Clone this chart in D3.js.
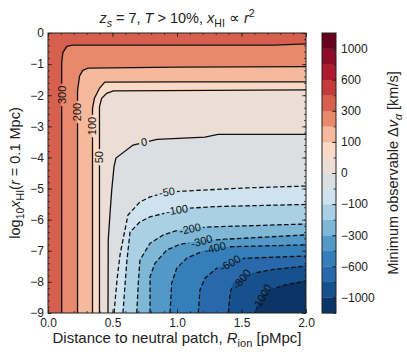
<!DOCTYPE html>
<html>
<head>
<meta charset="utf-8">
<style>
  body { margin: 0; background: #fff; }
  svg text { font-family: "Liberation Sans", Arial, sans-serif; fill: #222; }
  .axis path { display: none; }
  .axis line { stroke: #222; stroke-width: 0.8; }
  .axis text { font-size: 12px; fill: #222; }
</style>
</head>
<body>
<svg width="407" height="359"></svg>
<script src="https://cdnjs.cloudflare.com/ajax/libs/d3/7.8.5/d3.min.js"></script>
<script>
// contour levels of the filled map (km/s) and colorbar labels
const levels = [-1200, -1000, -800, -600, -400, -300, -200, -100, -50, 0, 50, 100, 200, 300, 400, 600, 800, 1000, 1200];
const cbarTicks = [1000, 600, 300, 100, 0, -100, -300, -600, -1000];
const xTicks = [0, 0.5, 1.0, 1.5, 2.0];
const yTicks = [0, -1, -2, -3, -4, -5, -6, -7, -8, -9];

// contour lines: [R_ion (pMpc), log10 x_HI]
const c300 = [[0.106, -9], [0.106, -0.95], [0.116, -0.62], [0.147, -0.43], [0.19, -0.39], [1.75, -0.39], [2.0, -0.35]];
const c200 = [[0.229, -9], [0.229, -1.85], [0.245, -1.38], [0.27, -1.2], [0.31, -1.13], [1.0, -1.1], [2.0, -1.08]];
const c100 = [[0.345, -9], [0.345, -2.42], [0.36, -2.1], [0.40, -1.77], [0.44, -1.58], [1.0, -1.57], [2.0, -1.57]];
const c50 = [[0.399, -9], [0.399, -2.37], [0.416, -2.1], [0.455, -1.94], [0.506, -1.86], [2.0, -1.83]];
const c0 = [[0.465, -9], [0.467, -6.65], [0.481, -5.79], [0.494, -5.05], [0.512, -4.29], [0.527, -4.02], [0.659, -3.6], [0.845, -3.42], [1.217, -3.35], [1.318, -3.26], [2.0, -3.26]];
const cm50 = [[0.512, -9], [0.535, -7.94], [0.558, -7.14], [0.581, -6.65], [0.62, -5.85], [0.713, -5.43], [0.791, -5.27], [0.922, -5.11], [1.062, -5.08], [1.527, -4.98], [2.0, -4.92]];
const cm100 = [[0.581, -9], [0.597, -8.1], [0.612, -7.3], [0.636, -6.4], [0.713, -6.07], [0.791, -5.91], [0.907, -5.79], [1.0, -5.69], [1.101, -5.63], [1.295, -5.58], [2.0, -5.51]];
const cm200 = [[0.688, -9], [0.70, -8.04], [0.713, -7.3], [0.791, -6.76], [0.894, -6.49], [0.998, -6.35], [1.101, -6.27], [1.281, -6.23], [2.0, -6.14]];
const cm300 = [[0.791, -9], [0.791, -7.83], [0.829, -7.4], [0.92, -6.98], [1.023, -6.79], [1.101, -6.74], [1.191, -6.68], [1.372, -6.63], [2.0, -6.49]];
const cm400 = [[0.946, -9], [0.959, -8.04], [0.998, -7.56], [1.075, -7.24], [1.191, -7.03], [1.295, -6.91], [1.411, -6.87], [2.0, -6.81]];
const cm600 = [[1.165, -9], [1.178, -8.26], [1.217, -7.88], [1.308, -7.56], [1.411, -7.4], [1.527, -7.24], [2.0, -7.17]];
const cm800 = [[1.398, -9], [1.411, -8.37], [1.436, -8.05], [1.502, -7.88], [1.591, -7.72], [1.747, -7.6], [2.0, -7.49]];
const cm1000 = [[1.605, -9], [1.62, -8.78], [1.667, -8.42], [1.721, -8.26], [1.837, -8.1], [2.0, -7.97]];

// inline contour labels: level, R, log10 x, rotation
const labelLevels = [300, 200, 100, 50, 0, -50, -100, -200, -300, -400, -600, -800, -1000];
const labelR = [0.106, 0.229, 0.345, 0.399, 0.744, 0.922, 1.0, 1.101, 1.191, 1.295, 1.411, 1.502, 1.659];
const labelL = [-1.99, -2.54, -2.99, -3.99, -3.5, -5.11, -5.69, -6.3, -6.69, -6.91, -7.4, -7.91, -8.49];
const labelAngle = [-90, -90, -90, -90, -10, -8, -10, -12, -15, -15, -30, -50, -60];

// RdBu_r-like band colours, low to high
const bandColors = ["#0a3566", "#16508d", "#2868ab", "#347fb9", "#5299c8", "#7fb7d7", "#a9d0e5", "#cee3ef", "#dbdfe1",
                    "#ecddd5", "#fad9c6", "#f5b99b", "#e9896c", "#d6604d", "#c43b3b", "#ae1a2e", "#8d0c27", "#67001f"];

const contours = [
  {level: 300, pts: c300}, {level: 200, pts: c200}, {level: 100, pts: c100}, {level: 50, pts: c50},
  {level: 0, pts: c0}, {level: -50, pts: cm50}, {level: -100, pts: cm100}, {level: -200, pts: cm200},
  {level: -300, pts: cm300}, {level: -400, pts: cm400}, {level: -600, pts: cm600}, {level: -800, pts: cm800},
  {level: -1000, pts: cm1000}
];

const svg = d3.select("svg");
const pL = 48, pR = 306, pT = 33, pB = 313;

const x = d3.scaleLinear().domain([0, 2]).range([pL, pR]);
const y = d3.scaleLinear().domain([-9, 0]).range([pB, pT]);
const bandColor = lv => bandColors[levels.indexOf(lv) - 1];

const defs = svg.append("defs");
defs.append("clipPath").attr("id", "plotclip")
  .append("rect").attr("x", pL).attr("y", pT).attr("width", pR - pL).attr("height", pB - pT);

const mask = defs.append("mask").attr("id", "lblmask")
  .attr("maskUnits", "userSpaceOnUse").attr("x", 0).attr("y", 0).attr("width", 407).attr("height", 359);
mask.append("rect").attr("width", 407).attr("height", 359).attr("fill", "white");

const plot = svg.append("g").attr("clip-path", "url(#plotclip)");

// background = band above the highest contour
plot.append("rect")
  .attr("x", pL).attr("y", pT).attr("width", pR - pL).attr("height", pB - pT)
  .attr("fill", bandColors[levels.indexOf(300)]);

const line = d3.line().x(d => x(d[0])).y(d => y(d[1]));

// each contour encloses the lower values towards the bottom-right corner
plot.selectAll("path.fill")
  .data(contours)
  .join("path")
  .attr("class", "fill")
  .attr("d", d => line(d.pts.concat([[2, -9]])) + "Z")
  .attr("fill", d => bandColor(d.level))
  .attr("stroke", d => bandColor(d.level))
  .attr("stroke-width", 0.5);

const lines = plot.append("g").attr("mask", "url(#lblmask)");
lines.selectAll("path.cline")
  .data(contours)
  .join("path")
  .attr("class", "cline")
  .attr("d", d => line(d.pts))
  .attr("fill", "none")
  .attr("stroke", "#111")
  .attr("stroke-width", 1.3)
  .attr("stroke-dasharray", d => d.level < 0 ? "4.5,2.5" : null);

// contour labels with a gap cut into the line
labelLevels.forEach((lv, i) => {
  const px = x(labelR[i]), py = y(labelL[i]);
  const t = plot.append("text")
    .attr("transform", `translate(${px},${py}) rotate(${labelAngle[i]})`)
    .attr("text-anchor", "middle")
    .attr("dy", "0.35em")
    .style("font-size", "11px")
    .style("fill", "#111")
    .text(String(lv));
  const w = t.node().getComputedTextLength();
  mask.append("rect")
    .attr("x", -w / 2 - 2).attr("y", -5.5).attr("width", w + 4).attr("height", 11)
    .attr("transform", `translate(${px},${py}) rotate(${labelAngle[i]})`)
    .attr("fill", "black");
});

// axes: major + minor ticks pointing inward on all four sides
const minorX = d3.range(0, 2.0001, 0.1);
const minorY = d3.range(-9, 0.0001, 0.2);

svg.append("g").attr("class", "axis").attr("transform", `translate(0,${pB})`)
  .call(d3.axisBottom(x).tickValues(minorX).tickSize(-2).tickFormat(""));
svg.append("g").attr("class", "axis").attr("transform", `translate(0,${pB})`)
  .call(d3.axisBottom(x).tickValues(xTicks).tickSize(-4).tickPadding(5).tickFormat(d3.format(".1f")));
svg.append("g").attr("class", "axis").attr("transform", `translate(0,${pT})`)
  .call(d3.axisTop(x).tickValues(minorX).tickSize(-2).tickFormat(""));
svg.append("g").attr("class", "axis").attr("transform", `translate(0,${pT})`)
  .call(d3.axisTop(x).tickValues(xTicks).tickSize(-4).tickFormat(""));

svg.append("g").attr("class", "axis").attr("transform", `translate(${pL},0)`)
  .call(d3.axisLeft(y).tickValues(minorY).tickSize(-2).tickFormat(""));
svg.append("g").attr("class", "axis").attr("transform", `translate(${pL},0)`)
  .call(d3.axisLeft(y).tickValues(yTicks).tickSize(-4).tickPadding(4).tickFormat(d3.format("d")));
svg.append("g").attr("class", "axis").attr("transform", `translate(${pR},0)`)
  .call(d3.axisRight(y).tickValues(minorY).tickSize(-2).tickFormat(""));
svg.append("g").attr("class", "axis").attr("transform", `translate(${pR},0)`)
  .call(d3.axisRight(y).tickValues(yTicks).tickSize(-4).tickFormat(""));

svg.append("rect")
  .attr("x", pL).attr("y", pT).attr("width", pR - pL).attr("height", pB - pT)
  .attr("fill", "none").attr("stroke", "#222").attr("stroke-width", 1);

// colorbar: equal-height bands per level interval
const cbL = 322, cbR = 336;
const cb = d3.scalePoint().domain(levels).range([pB, pT]);
svg.append("g").selectAll("rect")
  .data(levels.slice(0, -1))
  .join("rect")
  .attr("x", cbL).attr("width", cbR - cbL)
  .attr("y", (d, i) => cb(levels[i + 1]))
  .attr("height", (d, i) => cb(levels[i]) - cb(levels[i + 1]) + 0.3)
  .attr("fill", (d, i) => bandColors[i]);

svg.append("g").attr("class", "axis").attr("transform", `translate(${cbR},0)`)
  .call(d3.axisRight(cb).tickValues(levels).tickSize(-2.5).tickFormat(""));
svg.append("g").attr("class", "axis").attr("transform", `translate(${cbR},0)`)
  .call(d3.axisRight(cb).tickValues(cbarTicks).tickSize(-4).tickPadding(5).tickFormat(d3.format("d")));
svg.append("rect")
  .attr("x", cbL).attr("y", pT).attr("width", cbR - cbL).attr("height", pB - pT)
  .attr("fill", "none").attr("stroke", "#222").attr("stroke-width", 1);

// title and axis labels
const title = svg.append("text").attr("x", (pL + pR) / 2).attr("y", 23)
  .attr("text-anchor", "middle").style("font-size", "14.5px");
title.append("tspan").style("font-style", "italic").text("z");
title.append("tspan").style("font-style", "italic").style("font-size", "10.5px").attr("dy", 3.5).text("s");
title.append("tspan").attr("dy", -3.5).text(" = 7,  ");
title.append("tspan").style("font-style", "italic").text("T");
title.append("tspan").text(" > 10%,  ");
title.append("tspan").style("font-style", "italic").text("x");
title.append("tspan").style("font-size", "10.5px").attr("dy", 3.5).text("HI");
title.append("tspan").attr("dy", -3.5).text(" \u221d ");
title.append("tspan").style("font-style", "italic").text("r");
title.append("tspan").style("font-size", "10.5px").attr("dy", -6).text("2");

const xl = svg.append("text").attr("x", (pL + pR) / 2).attr("y", 343)
  .attr("text-anchor", "middle").style("font-size", "15px");
xl.append("tspan").text("Distance to neutral patch, ");
xl.append("tspan").style("font-style", "italic").text("R");
xl.append("tspan").style("font-size", "11px").attr("dy", 3.5).text("ion");
xl.append("tspan").attr("dy", -3.5).text(" [pMpc]");

const yl = svg.append("text").attr("transform", `translate(20,${(pT + pB) / 2}) rotate(-90)`)
  .attr("text-anchor", "middle").style("font-size", "14.5px");
yl.append("tspan").text("log");
yl.append("tspan").style("font-size", "10.5px").attr("dy", 3.5).text("10");
yl.append("tspan").style("font-style", "italic").attr("dy", -3.5).text("x");
yl.append("tspan").style("font-size", "10.5px").attr("dy", 3.5).text("HI");
yl.append("tspan").attr("dy", -3.5).text("(");
yl.append("tspan").style("font-style", "italic").text("r");
yl.append("tspan").text(" = 0.1 Mpc)");

const cl = svg.append("text").attr("transform", `translate(398,${(pT + pB) / 2}) rotate(-90)`)
  .attr("text-anchor", "middle").style("font-size", "14.5px");
cl.append("tspan").text("Minimum observable \u0394");
cl.append("tspan").style("font-style", "italic").text("v");
cl.append("tspan").style("font-style", "italic").style("font-size", "10.5px").attr("dy", 3.5).text("\u03b1");
cl.append("tspan").attr("dy", -3.5).text(" [km/s]");
</script>
</body>
</html>
